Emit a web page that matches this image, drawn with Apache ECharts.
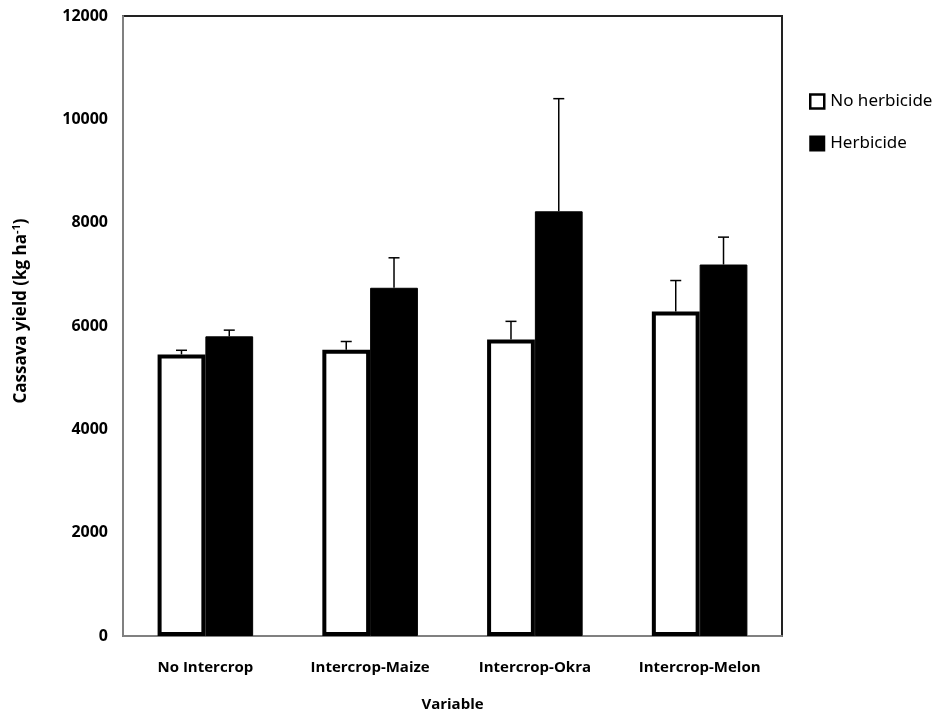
<!DOCTYPE html>
<html>
<head>
<meta charset="utf-8">
<script src="https://cdn.jsdelivr.net/npm/echarts@6/dist/echarts.min.js"></script>
<style>
html,body{margin:0;padding:0;background:#fff;}
#chart{width:939px;height:717px;}
</style>
</head>
<body>
<div id="chart"></div>
<script>
const categories = ['No Intercrop', 'Intercrop-Maize', 'Intercrop-Okra', 'Intercrop-Melon'];
const seriesNames = ['No herbicide', 'Herbicide'];
const noHerbicide = [5450, 5540, 5740, 6280];
const herbicide = [5800, 6740, 8220, 7190];
const noHerbicideErr = [80, 160, 350, 600];
const herbicideErr = [120, 580, 2180, 530];
const yTicks = [0, 2000, 4000, 6000, 8000, 10000, 12000];

const FONT = "'Open Sans', 'Noto Sans', sans-serif";
const BAR_FRAC = 0.29;

const chart = echarts.init(document.getElementById('chart'), null, {renderer: 'canvas'});

function errData(vals, errs) {
  return vals.map((v, i) => [i, v, errs[i]]);
}

function errRender(side) {
  return function (params, api) {
    const ci = api.value(0);
    const v = api.value(1);
    const e = api.value(2);
    const bw = api.size([1, 0])[0] * BAR_FRAC;
    const base = api.coord([ci, v]);
    const top = api.coord([ci, v + e]);
    const x = base[0] + side * bw / 2;
    const cap = 5.5;
    return {
      type: 'group',
      children: [
        {type: 'line', shape: {x1: x, y1: base[1], x2: x, y2: top[1]}, style: {stroke: '#000', lineWidth: 1.5}},
        {type: 'line', shape: {x1: x - cap, y1: top[1], x2: x + cap, y2: top[1]}, style: {stroke: '#000', lineWidth: 1.5}}
      ]
    };
  };
}

const option = {
  backgroundColor: '#fff',
  animation: false,
  grid: {left: 123, right: 157, top: 16, bottom: 78, show: true, borderColor: '#222', borderWidth: 2, backgroundColor: 'transparent'},
  legend: {
    orient: 'vertical',
    left: 809,
    top: 93,
    padding: 0,
    itemGap: 25,
    itemWidth: 14,
    itemHeight: 14,
    icon: 'rect',
    textStyle: {fontFamily: "'Noto Sans', sans-serif", fontSize: 17, color: '#000', padding: [0, 0, 0, 1]},
    data: [
      {name: seriesNames[0], itemStyle: {color: '#fff', borderColor: '#000', borderWidth: 2.5}},
      {name: seriesNames[1], itemStyle: {color: '#000'}}
    ]
  },
  xAxis: {
    type: 'category',
    data: categories,
    name: 'Variable',
    nameLocation: 'middle',
    nameGap: 61,
    nameTextStyle: {fontFamily: FONT, fontWeight: 'bold', fontSize: 15, color: '#000'},
    axisLine: {lineStyle: {color: '#808080', width: 2}},
    axisTick: {show: false},
    axisLabel: {interval: 0, fontFamily: FONT, fontWeight: 'bold', fontSize: 15, color: '#000', margin: 24}
  },
  yAxis: {
    type: 'value',
    min: yTicks[0],
    max: yTicks[yTicks.length - 1],
    interval: 2000,
    splitLine: {show: false},
    axisLine: {show: true, lineStyle: {color: '#808080', width: 2}},
    axisTick: {show: false},
    axisLabel: {fontFamily: FONT, fontWeight: 'bold', fontSize: 16, color: '#000', margin: 15, formatter: v => String(v)}
  },
  graphic: [{
    type: 'text',
    x: 21,
    y: 311,
    rotation: Math.PI / 2,
    style: {
      text: '{b|Cassava yield (kg ha}{s|-1}{b|)}',
      align: 'center',
      verticalAlign: 'middle',
      rich: {
        b: {fontFamily: FONT, fontWeight: 'bold', fontSize: 17, fill: '#000', color: '#000'},
        s: {fontFamily: FONT, fontWeight: 'bold', fontSize: 11, fill: '#000', color: '#000', verticalAlign: 'top', padding: [0, 0, 9, 0]}
      }
    }
  }],
  series: [
    {
      name: seriesNames[0],
      type: 'bar',
      data: noHerbicide,
      barWidth: (BAR_FRAC * 100) + '%',
      barGap: '0%',
      itemStyle: {color: '#fff', borderColor: '#000', borderWidth: 4},
      z: 2
    },
    {
      name: seriesNames[1],
      type: 'bar',
      data: herbicide,
      barWidth: (BAR_FRAC * 100) + '%',
      barGap: '0%',
      itemStyle: {color: '#000', borderColor: '#000', borderWidth: 1},
      z: 3
    },
    {
      type: 'custom',
      renderItem: errRender(-1),
      data: errData(noHerbicide, noHerbicideErr),
      encode: {x: 0, y: 1},
      z: 4,
      silent: true
    },
    {
      type: 'custom',
      renderItem: errRender(1),
      data: errData(herbicide, herbicideErr),
      encode: {x: 0, y: 1},
      z: 4,
      silent: true
    }
  ]
};
chart.setOption(option);
</script>
</body>
</html>
